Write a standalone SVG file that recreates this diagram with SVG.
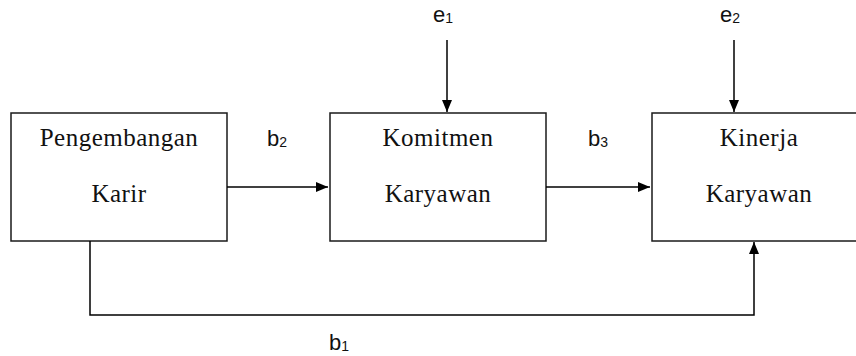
<svg xmlns="http://www.w3.org/2000/svg" width="856" height="356" viewBox="0 0 856 356">
  <defs>
    <marker id="arr" markerWidth="12" markerHeight="10" refX="12" refY="5" orient="auto" markerUnits="userSpaceOnUse">
      <path d="M0,0 L12,5 L0,10 Z" fill="#000"/>
    </marker>
    <style>
      .box { fill: #fff; stroke: #1a1a1a; stroke-width: 1.5; }
      .node { font-family: "Liberation Serif", "Times New Roman", serif; font-size: 25px; letter-spacing: 0.5px; fill: #111; text-anchor: middle; }
      .lbl { font-family: "Liberation Sans", Arial, sans-serif; font-size: 22px; fill: #111; }
      .sub { font-size: 14px; }
      .conn { fill: none; stroke: #000; stroke-width: 1.5; }
    </style>
  </defs>
  <rect width="856" height="356" fill="#fff"/>
  <g id="node-pengembangan">
    <rect class="box" x="11" y="113" width="216" height="128"/>
    <text class="node" x="119" y="146">Pengembangan</text>
    <text class="node" x="119" y="202">Karir</text>
  </g>
  <g id="node-komitmen">
    <rect class="box" x="330" y="113" width="216" height="128"/>
    <text class="node" x="438" y="146">Komitmen</text>
    <text class="node" x="438" y="202">Karyawan</text>
  </g>
  <g id="node-kinerja">
    <rect class="box" x="652" y="113" width="216" height="128"/>
    <text class="node" x="759" y="146">Kinerja</text>
    <text class="node" x="759" y="202">Karyawan</text>
  </g>
  <g id="connectors">
    <line class="conn" x1="227" y1="187" x2="328" y2="187" marker-end="url(#arr)"/>
    <line class="conn" x1="546" y1="187" x2="650" y2="187" marker-end="url(#arr)"/>
    <line class="conn" x1="447" y1="40" x2="447" y2="112" marker-end="url(#arr)"/>
    <line class="conn" x1="734" y1="40" x2="734" y2="112" marker-end="url(#arr)"/>
    <polyline class="conn" points="90,241 90,315 754,315 754,242" marker-end="url(#arr)"/>
  </g>
  <g id="labels">
    <text class="lbl" x="433" y="22">e<tspan class="sub" dy="1">1</tspan></text>
    <text class="lbl" x="720" y="22">e<tspan class="sub" dy="1">2</tspan></text>
    <text class="lbl" x="267" y="146">b<tspan class="sub" dy="1">2</tspan></text>
    <text class="lbl" x="588" y="146">b<tspan class="sub" dy="1">3</tspan></text>
    <text class="lbl" x="329" y="350">b<tspan class="sub" dy="1">1</tspan></text>
  </g>
</svg>
